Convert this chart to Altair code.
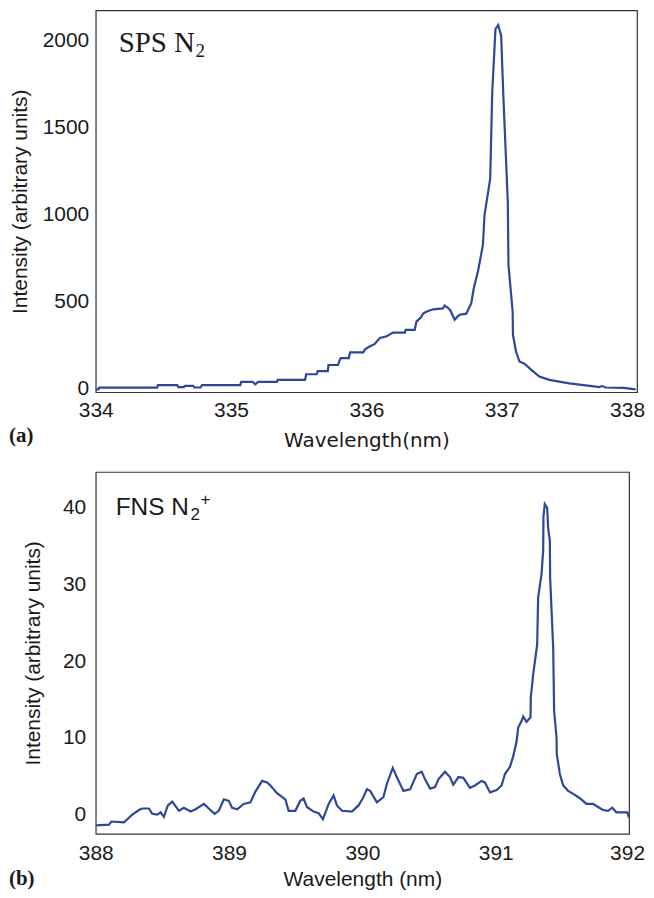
import altair as alt
import pandas as pd

# ---------------- Panel (a): SPS N2 ----------------
wl_a = [334.000, 334.020, 334.025, 334.454, 334.460, 334.602, 334.610, 334.650, 334.660, 334.720,
        334.730, 334.775, 334.786, 335.068, 335.075, 335.160, 335.179, 335.200, 335.339, 335.345,
        335.547, 335.555, 335.633, 335.640, 335.715, 335.720, 335.790, 335.810, 335.870, 335.880,
        335.977, 335.990, 336.020, 336.060, 336.100, 336.150, 336.197, 336.284, 336.290, 336.357,
        336.370, 336.405, 336.419, 336.443, 336.492, 336.566, 336.578, 336.600, 336.620, 336.652,
        336.670, 336.689, 336.738, 336.760, 336.775, 336.790, 336.799, 336.824, 336.861, 336.873,
        336.915, 336.922, 336.930, 336.954, 336.974, 336.996, 337.013, 337.045, 337.050, 337.081,
        337.083, 337.106, 337.131, 337.168, 337.217, 337.278, 337.352, 337.499, 337.696, 337.720,
        337.740, 337.769, 337.900, 337.990]
int_a = [-5, -5, 5, 5, 20, 20, 8, 8, 15, 15,
         6, 6, 20, 20, 38, 38, 24, 38, 38, 50,
         50, 82, 82, 100, 100, 135, 135, 175, 175, 208,
         208, 225, 240, 255, 290, 300, 321, 321, 337, 337,
         384, 410, 430, 441, 455, 460, 476, 465, 450, 395,
         410, 424, 430, 465, 489, 560, 595, 670, 824, 996,
         1205, 1434, 1702, 2065, 2088, 2027, 1664, 1072, 710, 441,
         309, 212, 155, 143, 109, 69, 50, 30, 11, 8,
         14, 6, 4, -5]

# ---------------- Panel (b): FNS N2+ ----------------
wl_b = [388.000, 388.100, 388.117, 388.212, 388.237, 388.274, 388.324, 388.349, 388.399, 388.424,
        388.462, 388.487, 388.511, 388.541, 388.574, 388.624, 388.661, 388.711, 388.749, 388.811,
        388.848, 388.891, 388.923, 388.961, 388.998, 389.023, 389.061, 389.110, 389.160, 389.198,
        389.248, 389.285, 389.310, 389.360, 389.422, 389.447, 389.497, 389.534, 389.559, 389.584,
        389.634, 389.672, 389.704, 389.747, 389.784, 389.809, 389.847, 389.921, 389.971, 390.008,
        390.034, 390.058, 390.109, 390.158, 390.183, 390.228, 390.258, 390.308, 390.358, 390.408,
        390.445, 390.470, 390.508, 390.545, 390.570, 390.620, 390.657, 390.682, 390.720, 390.757,
        390.807, 390.844, 390.894, 390.919, 390.957, 391.007, 391.044, 391.069, 391.106, 391.131,
        391.156, 391.169, 391.194, 391.206, 391.231, 391.261, 391.263, 391.281, 391.311, 391.318,
        391.343, 391.356, 391.358, 391.368, 391.386, 391.393, 391.406, 391.408, 391.431, 391.438,
        391.456, 391.458, 391.481, 391.506, 391.543, 391.581, 391.618, 391.655, 391.680, 391.730,
        391.767, 391.805, 391.842, 391.874, 391.905, 391.954, 391.987, 392.000]
int_b = [-1.4, -1.3, -0.9, -1.0, -0.6, 0.0, 0.6, 0.8, 0.8, 0.1,
         0.0, 0.3, -0.3, 1.2, 1.7, 0.5, 0.9, 0.4, 0.7, 1.4,
         0.8, 0.1, 0.5, 2.0, 1.8, 0.9, 0.7, 1.4, 1.6, 3.0,
         4.4, 4.2, 3.8, 2.8, 2.0, 0.5, 0.5, 1.8, 2.1, 1.0,
         0.4, 0.2, -0.6, 1.4, 2.5, 1.2, 0.5, 0.4, 1.2, 2.3,
         3.3, 3.1, 1.6, 2.3, 4.0, 6.1, 4.9, 3.1, 3.3, 5.3,
         5.6, 4.6, 3.4, 3.6, 4.6, 5.6, 4.9, 3.9, 4.9, 4.8,
         3.5, 3.8, 4.4, 4.2, 2.9, 3.2, 3.8, 5.3, 6.2, 7.6,
         9.5, 11.4, 12.2, 12.8, 12.1, 12.7, 15.3, 18.3, 22.2, 28.3,
         31.3, 34.4, 38.9, 40.5, 40.0, 37.4, 35.7, 30.9, 21.8, 13.5,
         10.1, 7.9, 5.3, 3.8, 3.1, 2.7, 2.3, 1.8, 1.4, 1.4,
         1.0, 0.6, 0.5, 0.9, 0.3, 0.3, 0.3, -0.4]

x_ticks_a = [334, 335, 336, 337, 338]
y_ticks_a = [0, 500, 1000, 1500, 2000]
x_ticks_b = [388, 389, 390, 391, 392]
y_ticks_b = [0, 10, 20, 30, 40]

LINE = "#2C4897"
INK = "#1a1a1a"

df_a = pd.DataFrame({"wl": wl_a, "inten": int_a})
df_b = pd.DataFrame({"wl": wl_b, "inten": int_b})


def axis(values, title, title_font, title_size, label_pad, title_pad, label_offset=0):
    return alt.Axis(values=values, title=title, format="d", ticks=False, domain=False, grid=False,
                    labelFont="Liberation Sans", labelFontSize=21, labelColor=INK,
                    labelPadding=label_pad, labelFlush=False, labelOverlap=False,
                    labelOffset=label_offset,
                    titleFont=title_font, titleFontSize=title_size, titleFontWeight="normal",
                    titleColor=INK, titlePadding=title_pad)


def text(t, x, y, font, size, weight="normal"):
    return alt.Chart(pd.DataFrame({"t": [t]})).mark_text(
        font=font, fontSize=size, fontWeight=weight, align="left", baseline="alphabetic", color=INK
    ).encode(x=alt.value(x), y=alt.value(y), text="t:N")


W_A, H_A = 543, 383
W_B, H_B = 535, 363

# keep the right-most tick labels inside the 638px-wide page area
shift_a = {"condition": {"test": "datum.value == 338", "value": -10}, "value": 0}
shift_b = {"condition": {"test": "datum.value == 392", "value": -2}, "value": 0}

line_a = alt.Chart(df_a).mark_line(color=LINE, strokeWidth=2.2).encode(
    x=alt.X("wl:Q", scale=alt.Scale(domain=[334, 338], nice=False, zero=False),
            axis=axis(x_ticks_a, "Wavelength(nm)", "DejaVu Sans", 20, 7, 10, shift_a)),
    y=alt.Y("inten:Q", scale=alt.Scale(domain=[-21, 2172], nice=False, zero=False),
            axis=axis(y_ticks_a, "Intensity (arbitrary units)", "Liberation Sans", 21, 7, 12)),
    order=alt.Order("wl:Q"),
)
top = alt.layer(
    line_a,
    text("SPS N", 23, 42, "Liberation Serif", 29),
    text("2", 100, 47, "Liberation Serif", 19),
    text("(a)", -87, 433, "Liberation Serif", 21, "bold"),
).properties(width=W_A, height=H_A)

line_b = alt.Chart(df_b).mark_line(color=LINE, strokeWidth=2.2).encode(
    x=alt.X("wl:Q", scale=alt.Scale(domain=[388, 392], nice=False, zero=False),
            axis=axis(x_ticks_b, "Wavelength (nm)", "Liberation Sans", 21, 9, 5, shift_b)),
    y=alt.Y("inten:Q", scale=alt.Scale(domain=[-2.5, 44.7], nice=False, zero=False),
            axis=axis(y_ticks_b, "Intensity (arbitrary units)", "Liberation Sans", 21, 10, 19)),
    order=alt.Order("wl:Q"),
)
bottom = alt.layer(
    line_b,
    text("FNS N", 20, 43, "Liberation Sans", 24.5),
    text("2", 95, 48, "Liberation Sans", 17),
    text("+", 105, 33, "Liberation Sans", 17),
    text("(b)", -87, 414, "Liberation Serif", 21, "bold"),
).properties(width=W_B, height=H_B)

chart = alt.vconcat(top, bottom, spacing=80, bounds="flush").properties(
    padding={"left": 0, "top": 0, "right": 0, "bottom": 0}
).configure_view(stroke="#333333", strokeWidth=1.2)

chart.save("out.html", embed_options={"renderer": "svg", "actions": False})
